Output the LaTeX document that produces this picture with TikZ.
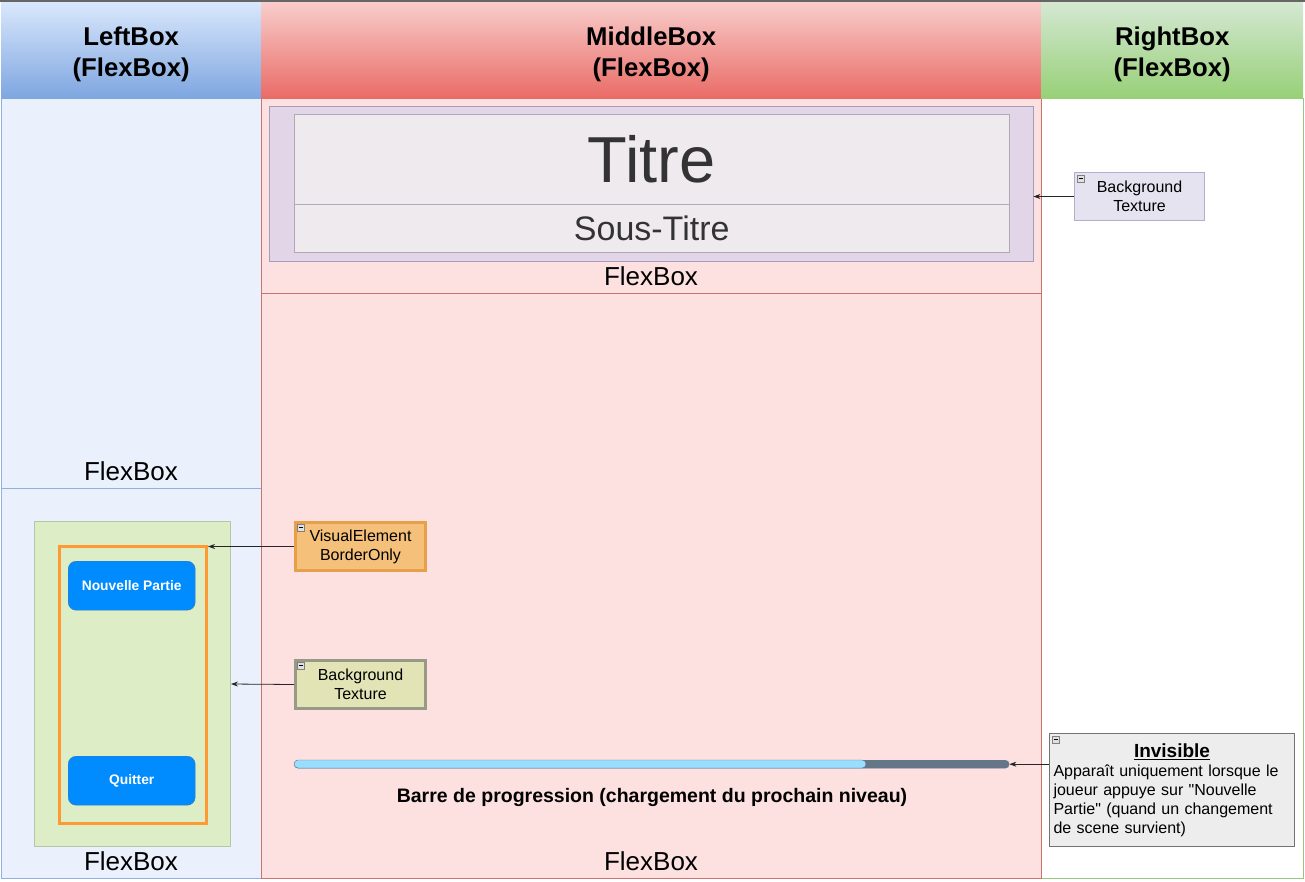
\documentclass[tikz,border=0pt]{standalone}
\usepackage{fontspec}
\setmainfont{Liberation Sans}
\usetikzlibrary{arrows.meta}

\definecolor{lefttop}{HTML}{DAE8FC}
\definecolor{leftbot}{HTML}{7EA6E0}
\definecolor{leftbody}{HTML}{EBF1FC}
\definecolor{leftline}{HTML}{8FB0E0}
\definecolor{midtop}{HTML}{F8CECC}
\definecolor{midbot}{HTML}{EA6B66}
\definecolor{midbody}{HTML}{FDE0E0}
\definecolor{midline}{HTML}{C8736F}
\definecolor{righttop}{HTML}{D5E8D4}
\definecolor{rightbot}{HTML}{97D077}
\definecolor{rightline}{HTML}{97C77E}
\definecolor{panelfill}{HTML}{E1D5E7}
\definecolor{panelline}{HTML}{A59CB8}
\definecolor{titlefill}{HTML}{EEEAEE}
\definecolor{titleline}{HTML}{B0AAB5}
\definecolor{lavnote}{HTML}{E5E3F0}
\definecolor{lavline}{HTML}{B3AECF}
\definecolor{orangenote}{HTML}{F5C17A}
\definecolor{orangeline}{HTML}{E6A04A}
\definecolor{olivenote}{HTML}{E3E4B6}
\definecolor{oliveline}{HTML}{999988}
\definecolor{greennote}{HTML}{DDEDC5}
\definecolor{greenline}{HTML}{B5C5A5}
\definecolor{frameorange}{HTML}{FF9933}
\definecolor{btnfill}{HTML}{008CFF}
\definecolor{btnline}{HTML}{3E78B0}
\definecolor{barfill}{HTML}{99DDFF}
\definecolor{barback}{HTML}{647687}
\definecolor{barline}{HTML}{5F7A94}
\definecolor{textgray}{HTML}{333333}

\tikzset{
  header/.style={anchor=north west, inner sep=0pt},
  headtext/.style={align=center, inner sep=0pt,
    font=\bfseries\fontsize{25.7}{31}\selectfont},
  notebox/.style={draw, line width=1pt, anchor=north west, inner sep=2pt,
    align=center, font=\fontsize{16}{19}\selectfont},
  flexlabel/.style={font=\fontsize{26}{30}\selectfont},
  button/.style={draw=btnline, fill=btnfill, rounded corners=8pt, anchor=north west,
    minimum width=127, minimum height=49, text=white,
    font=\bfseries\fontsize{13.8}{16}\selectfont},
  pointer/.style={-{Stealth[length=7pt,width=5pt]}, line width=0.8pt, black!85}
}

% collapse icon of a note
\newcommand{\minusicon}[1]{%
  \draw[black!50, fill=black!12, line width=0.6pt]
    ([shift={(3,3)}]#1.north west) rectangle ([shift={(10,10)}]#1.north west);
  \draw[black, line width=1pt]
    ([shift={(4.5,6.5)}]#1.north west) -- ([shift={(8.5,6.5)}]#1.north west);
}

\begin{document}
\begin{tikzpicture}[x=1pt, y=-1pt]
    \useasboundingbox (0,0) rectangle (1305,881);
    \fill[white] (0,0) rectangle (1305,881);

    % Columns
    \fill[leftbody] (1,98) rectangle (261,878);
    \fill[midbody] (261,98) rectangle (1041,878);
    \draw[leftline] (1,98) rectangle (261,488);
    \draw[leftline] (1,488) rectangle (261,878);
    \draw[rightline] (1041,878) -- (1303,878) -- (1303,98);
    \draw[midline] (261,98) rectangle (1041,878);
    \draw[midline] (261,293) -- (1041,293);

    % Headers
    \node[header, top color=lefttop, bottom color=leftbot,
      minimum width=260, minimum height=97] (lefthead) at (1,1) {};
    \node[header, top color=midtop, bottom color=midbot,
      minimum width=780, minimum height=97] (midhead) at (261,1) {};
    \node[header, top color=righttop, bottom color=rightbot,
      minimum width=262, minimum height=97] (righthead) at (1041,1) {};
    \node[headtext] (lefttitle) at ([yshift=-5pt]lefthead.center) {LeftBox\\(FlexBox)};
    \node[headtext] (midtitle) at ([yshift=-5pt]midhead.center) {MiddleBox\\(FlexBox)};
    \node[headtext] (righttitle) at ([yshift=-5pt]righthead.center) {RightBox\\(FlexBox)};
    \draw[black!60, line width=2pt] (0,1) -- (1305,1);

    % Title panel
    \node[draw=panelline, fill=panelfill, anchor=north west, inner sep=0pt,
      minimum width=764, minimum height=155] (titlepanel) at (269,106) {};
    \node[draw=titleline, fill=titlefill, anchor=north west, inner sep=0pt,
      minimum width=715, minimum height=90, text=textgray,
      font=\fontsize{65}{65}\selectfont] (titre) at (294,114) {Titre};
    \node[draw=titleline, fill=titlefill, anchor=north west, inner sep=0pt,
      minimum width=715, minimum height=48, text=textgray,
      font=\fontsize{34}{34}\selectfont] (soustitre) at (294,204) {Sous-Titre};
    \node[flexlabel] (midflextop) at (651,276) {FlexBox};

    % Left column content
    \node[flexlabel] (leftflextop) at (131,471) {FlexBox};
    \node[draw=greenline, fill=greennote, line width=1pt, anchor=north west, inner sep=0pt,
      minimum width=196, minimum height=325] (menubox) at (34,521) {};
    \node[draw=frameorange, line width=3pt, anchor=north west, inner sep=0pt,
      minimum width=147, minimum height=277] (frame) at (58,545) {};
    \node[button] (nouvelle) at (68,561) {Nouvelle Partie};
    \node[button] (quitter) at (68,756) {Quitter};
    \node[flexlabel] (leftflexbot) at (131,861) {FlexBox};

    % Progress bar
    \node[draw=barline, fill=barback, rounded corners=4pt, anchor=north west, inner sep=0pt,
      minimum width=715, minimum height=8] (bar) at (294,760) {};
    \fill[barfill, draw=barline, rounded corners=4pt] (bar.north west) rectangle (866,768);
    \node[font=\bfseries\fontsize{19.5}{22}\selectfont] (barlabel) at (652,797)
      {Barre de progression (chargement du prochain niveau)};
    \node[flexlabel] (midflexbot) at (651,861) {FlexBox};

    % Notes
    \node[notebox, draw=lavline, fill=lavnote, minimum width=130, minimum height=48]
      (texnote) at (1074,172) {Background\\Texture};
    \node[notebox, draw=orangeline, fill=orangenote, line width=3pt,
      minimum width=130, minimum height=48] (borderonly) at (294,521) {VisualElement\\BorderOnly};
    \node[notebox, draw=oliveline, fill=olivenote, line width=3pt,
      minimum width=130, minimum height=48] (menutex) at (294,659) {Background\\Texture};
    \node[notebox, draw=black!55, fill=black!7, minimum width=245, minimum height=113,
      align=left, text width=237pt] (invnote) at (1049,733)
      {\centering{\bfseries\fontsize{19}{23}\selectfont\underline{Invisible}}\par
       \raggedright Apparaît uniquement lorsque le\\
       joueur appuye sur \textquotedbl Nouvelle\\
       Partie\textquotedbl{} (quand un changement\\
       de scene survient)};
    \minusicon{texnote}
    \minusicon{borderonly}
    \minusicon{menutex}
    \minusicon{invnote}

    % Pointers
    \draw[pointer] (texnote.west) -- (texnote.west -| titlepanel.east);
    \draw[pointer] (borderonly.west) -- (borderonly.west -| frame.east);
    \draw[pointer] (menutex.west) -- (menubox.east);
    \draw[pointer] (invnote.west |- bar.east) -- (bar.east);
\end{tikzpicture}
\end{document}
